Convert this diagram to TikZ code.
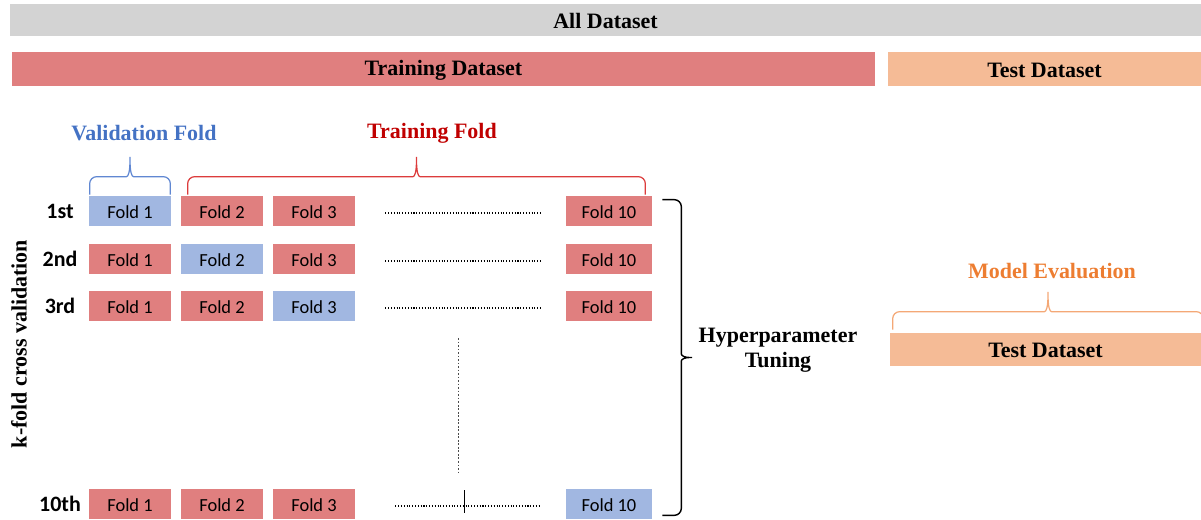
\documentclass[tikz,border=0pt]{standalone}
\usepackage{fontspec}
\setmainfont{Liberation Serif}
\newfontfamily\carlito{Carlito}
\usetikzlibrary{calc}
\definecolor{silver}{RGB}{211,211,211}
\definecolor{rose}{RGB}{224,127,127}
\definecolor{peach}{RGB}{245,187,150}
\definecolor{sky}{RGB}{161,183,225}
\definecolor{navy}{RGB}{68,114,196}
\definecolor{crimson}{RGB}{192,0,0}
\definecolor{tangerine}{RGB}{237,125,49}
\definecolor{bluebr}{RGB}{96,135,210}
\definecolor{redbr}{RGB}{220,60,60}
\definecolor{orangebr}{RGB}{244,168,118}
\tikzset{
  bar/.style={fill=#1,inner sep=0pt,minimum height=6.6mm,text height=3.4mm,
    font=\fontsize{12.5}{14}\selectfont\bfseries},
  fold/.style={fill=#1,inner sep=0pt,minimum width=16.4mm,minimum height=6mm,
    text height=3mm,font=\carlito\fontsize{10.5}{12}\selectfont},
  fold/.default=rose,
  rowtag/.style={font=\carlito\fontsize{12.5}{14}\selectfont\bfseries},
  tag/.style={font=\fontsize{12.5}{14}\selectfont\bfseries,text=#1,align=center},
  tag/.default=black,
  dotrow/.style={line width=0.6pt,dash pattern=on 0.6pt off 1pt},
  vdotrow/.style={line width=0.4pt,black!70,dash pattern=on 1pt off 1pt},
  % curly brace over a box, tip upwards
  ubrace/.style={draw=#1,line width=0.7pt,rounded corners=4pt,to path={
    (\tikztostart) -- ($(\tikztostart)+(0pt,0.36cm)$)
    -- ($(\tikztostart)!0.5!(\tikztotarget)+(-6pt,0.36cm)$)
    .. controls ($(\tikztostart)!0.5!(\tikztotarget)+(-1pt,0.36cm)$)
    and ($(\tikztostart)!0.5!(\tikztotarget)+(0pt,0.45cm)$)
    .. ($(\tikztostart)!0.5!(\tikztotarget)+(0pt,0.84cm)$)
    .. controls ($(\tikztostart)!0.5!(\tikztotarget)+(0pt,0.45cm)$)
    and ($(\tikztostart)!0.5!(\tikztotarget)+(1pt,0.36cm)$)
    .. ($(\tikztostart)!0.5!(\tikztotarget)+(6pt,0.36cm)$)
    -- ($(\tikztotarget)+(0pt,0.36cm)$) -- (\tikztotarget)}},
  % curly brace on the right, tip to the right
  rbrace/.style={draw=#1,line width=0.8pt,rounded corners=4pt,to path={
    (\tikztostart) -- ($(\tikztostart)+(0.38cm,0pt)$)
    -- ($(\tikztostart)!0.5!(\tikztotarget)+(0.38cm,6pt)$)
    .. controls ($(\tikztostart)!0.5!(\tikztotarget)+(0.38cm,1pt)$)
    and ($(\tikztostart)!0.5!(\tikztotarget)+(0.45cm,0pt)$)
    .. ($(\tikztostart)!0.5!(\tikztotarget)+(0.68cm,0pt)$)
    .. controls ($(\tikztostart)!0.5!(\tikztotarget)+(0.45cm,0pt)$)
    and ($(\tikztostart)!0.5!(\tikztotarget)+(0.38cm,-1pt)$)
    .. ($(\tikztostart)!0.5!(\tikztotarget)+(0.38cm,-6pt)$)
    -- ($(\tikztotarget)+(0.38cm,0pt)$) -- (\tikztotarget)}},
  rbrace/.default=black,
}
\begin{document}
\begin{tikzpicture}[x=0.02cm,y=-0.02cm]
  \useasboundingbox (0,0) rectangle (1201,520);
  % dataset bars
  \node[bar=silver,minimum width=23.82cm,minimum height=6.4mm] (all) at (605.5,20) {All Dataset};
  \node[bar=rose,minimum width=17.26cm,minimum height=6.8mm] (train) at (443.5,69) {Training Dataset};
  \node[bar=peach,minimum width=6.26cm,minimum height=6.8mm] (test) at (1044.5,69) {Test Dataset};
  \node[bar=peach,minimum width=6.22cm] (test2) at (1045.5,349.5) {Test Dataset};

  % folds
  \foreach \r/\y/\lab/\dx in {1/211/1st/30,2/259/2nd/30,3/306/3rd/30,10/504/10th/40}{
    \node[rowtag] (tag\r) at (60,\y) {\lab};
    \foreach \c/\x in {1/130,2/222,3/314}{
      \ifnum\r=\c \def\fcol{sky}\else\def\fcol{rose}\fi
      \node[fold=\fcol] (f\r-\c) at (\x,\y) {Fold \c};
    }
    \ifnum\r=10 \def\fcol{sky}\else\def\fcol{rose}\fi
    \node[fold=\fcol,minimum width=17.2mm] (f\r-10) at (609,\y) {Fold 10};
    \draw[dotrow] ($(f\r-3.east)+(\dx,2)$) -- ($(f\r-10.west)+(-25,2)$);
  }
  \coordinate (vtop) at (458,338);
  \coordinate (vbot) at (458,475);
  \draw[vdotrow] (vtop) -- (vbot);
  \coordinate (tk1) at (464,490);
  \coordinate (tk2) at (464,513);
  \draw[line width=0.5pt] (tk1) -- (tk2);

  \node[tag,rotate=90] (kfold) at (19,344) {k-fold cross validation};

  % braces and labels
  \draw[ubrace=bluebr] ($(f1-1.north west)+(1,-1)$) to ($(f1-1.north east)+(-1,-1)$);
  \draw[ubrace=redbr] ($(f1-2.north west)+(7,-1)$) to ($(f1-10.north east)+(-7,-1)$);
  \draw[ubrace=orangebr] ($(test2.north west)+(3,-3)$) to ($(test2.north east)+(2,-3)$);
  \node[tag=navy] (valtag) at (144,133) {Validation Fold};
  \node[tag=crimson] (trtag) at (432,133) {Training Fold};
  \node[tag=tangerine] (evtag) at (1052,271) {Model Evaluation};

  \draw[rbrace] ($(f1-10.north east)+(10,4)$) to ($(f10-10.south east)+(10,-4)$);
  \node[tag] (hyper) at (778,350) {Hyperparameter\\Tuning};
\end{tikzpicture}
\end{document}
